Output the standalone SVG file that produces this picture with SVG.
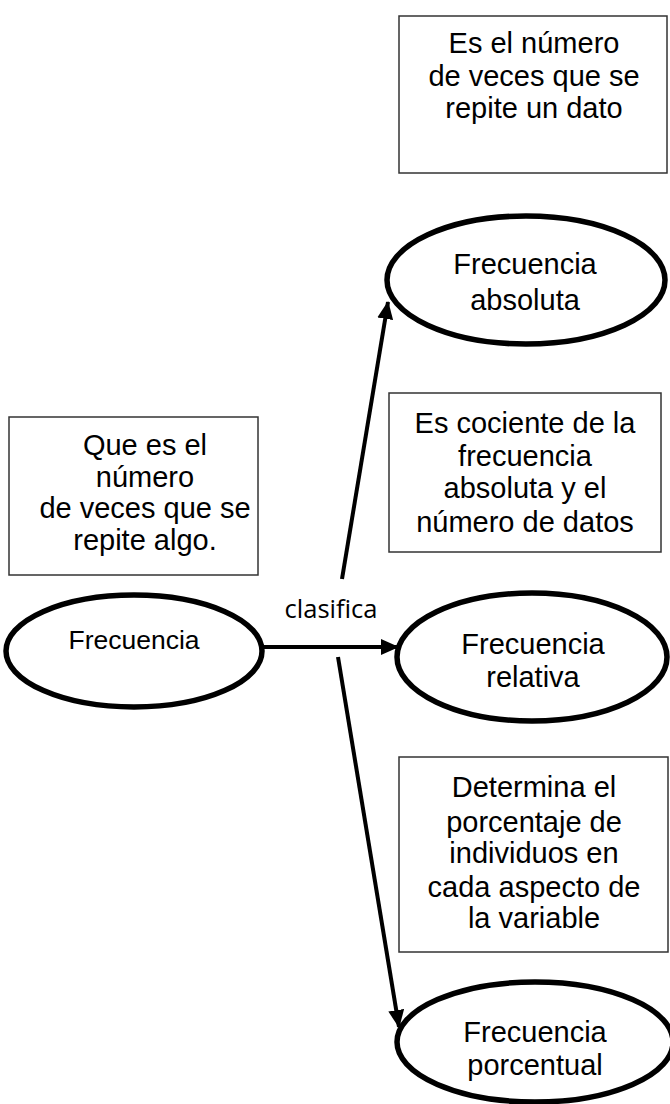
<svg xmlns="http://www.w3.org/2000/svg" width="670" height="1104" viewBox="0 0 670 1104">
<style>
.box{fill:#fff;stroke:#333;stroke-width:1.5}
.ell{fill:#fff;stroke:#000;stroke-width:5.5}
.t{font-family:"Liberation Sans",Arial,sans-serif;font-size:29px;fill:#000;text-anchor:middle}
.ts{font-size:26.5px}
.lbl{font-family:"Open Sans","Noto Sans",sans-serif;font-size:25px;fill:#000;text-anchor:middle}
.con{stroke:#000;stroke-width:4;fill:none;marker-end:url(#ah)}
</style>
<defs>
<marker id="ah" markerUnits="userSpaceOnUse" markerWidth="18" markerHeight="16" refX="17" refY="8" orient="auto">
<path d="M0,0 L18,8 L0,16 Z" fill="#000"/>
</marker>
</defs>
<rect width="670" height="1104" fill="#fff"/>
<g id="connectors">
<line class="con" x1="262" y1="647" x2="398" y2="647"/>
<line class="con" x1="342" y1="579" x2="388" y2="302"/>
<line class="con" x1="338" y1="657" x2="399" y2="1027"/>
<text class="lbl" x="331" y="618" textLength="93" lengthAdjust="spacingAndGlyphs">clasifica</text>
</g>
<g id="box-absoluta-def">
<rect class="box" x="399" y="16" width="268" height="157"/>
<text class="t" x="534" y="53">Es el número</text>
<text class="t" x="534" y="86">de veces que se</text>
<text class="t" x="534" y="118">repite un dato</text>
</g>
<g id="node-absoluta">
<ellipse class="ell" cx="526" cy="280" rx="139" ry="64"/>
<text class="t" x="525" y="274">Frecuencia</text>
<text class="t" x="525" y="310">absoluta</text>
</g>
<g id="box-relativa-def">
<rect class="box" x="389" y="393" width="272" height="159"/>
<text class="t" x="525" y="433">Es cociente de la</text>
<text class="t" x="525" y="466">frecuencia</text>
<text class="t" x="525" y="498">absoluta y el</text>
<text class="t" x="525" y="532">número de datos</text>
</g>
<g id="box-frecuencia-def">
<rect class="box" x="9" y="417" width="249" height="158"/>
<text class="t" x="145" y="455">Que es el</text>
<text class="t" x="145" y="487">número</text>
<text class="t" x="145" y="518">de veces que se</text>
<text class="t" x="145" y="550">repite algo.</text>
</g>
<g id="node-frecuencia">
<ellipse class="ell" cx="134" cy="651" rx="128" ry="56"/>
<text class="t ts" x="134" y="649">Frecuencia</text>
</g>
<g id="node-relativa">
<ellipse class="ell" cx="532" cy="657" rx="135" ry="64"/>
<text class="t" x="533" y="654">Frecuencia</text>
<text class="t" x="533" y="687">relativa</text>
</g>
<g id="box-porcentual-def">
<rect class="box" x="399" y="757" width="269" height="195"/>
<text class="t" x="534" y="797">Determina el</text>
<text class="t" x="534" y="832">porcentaje de</text>
<text class="t" x="534" y="863">individuos en</text>
<text class="t" x="534" y="897">cada aspecto de</text>
<text class="t" x="534" y="928">la variable</text>
</g>
<g id="node-porcentual">
<ellipse class="ell" cx="535" cy="1042" rx="138" ry="60"/>
<text class="t" x="535" y="1042">Frecuencia</text>
<text class="t" x="535" y="1075">porcentual</text>
</g>
</svg>
